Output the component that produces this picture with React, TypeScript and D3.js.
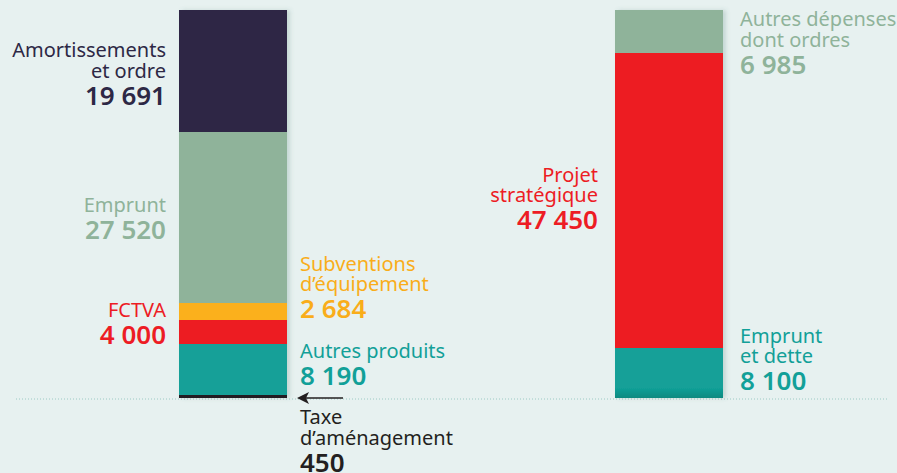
import { useEffect, useRef } from "react";
import * as d3 from "d3";

// Recettes (gauche), from bottom to top
const leftKeys = ["taxe", "autres", "fctva", "subv", "emprunt", "amort"];
const leftValues = [450, 8190, 4000, 2684, 27520, 19691];
const leftColors = ["#231f20", "#12a098", "#ed1c24", "#fbb01d", "#8fb39a", "#2d2845"];

// Dépenses (droite), from bottom to top
const rightKeys = ["dette", "projet", "autresdep"];
const rightValues = [8100, 47450, 6985];
const rightColors = ["url(#tealGrad)", "#ed1c24", "#8fb39a"];

const labelLines: Record<string, string[]> = {
  amort: ["Amortissements", "et ordre"],
  emprunt: ["Emprunt"],
  fctva: ["FCTVA"],
  subv: ["Subventions", "d\u2019équipement"],
  autres: ["Autres produits"],
  taxe: ["Taxe", "d\u2019aménagement"],
  projet: ["Projet", "stratégique"],
  autresdep: ["Autres dépenses", "dont ordres"],
  dette: ["Emprunt", "et dette"],
};
const labelColors: Record<string, string> = {
  amort: "#2d2845",
  emprunt: "#8fb39a",
  fctva: "#ed1c24",
  subv: "#f9ad1a",
  autres: "#12a098",
  taxe: "#231f20",
  projet: "#ed1c24",
  autresdep: "#8fb39a",
  dette: "#12a098",
};

const fmt = (v: number) => d3.format(",")(v).replace(/,/g, " ");

export default function App() {
  const ref = useRef<SVGSVGElement>(null);
  const width = 897;
  const height = 473;

  useEffect(() => {
    const svg = d3.select(ref.current);
    svg.selectAll("*").remove();

    const baseY = 398;
    const total = d3.sum(leftValues);
    const y = d3.scaleLinear().domain([0, total]).range([baseY, 10]);
    const x = d3.scaleOrdinal<string, number>().domain(["left", "right"]).range([179, 615]);
    const barW = 108;

    svg.append("rect").attr("width", width).attr("height", height).attr("fill", "#e7f1f0");

    const defs = svg.append("defs");
    const f = defs.append("filter").attr("id", "shadow").attr("x", "-10%").attr("width", "130%");
    f.append("feDropShadow").attr("dx", 3).attr("dy", 0).attr("stdDeviation", 2)
      .attr("flood-color", "#4d7a70").attr("flood-opacity", 0.22);
    const g = defs.append("linearGradient").attr("id", "tealGrad").attr("x1", 0).attr("x2", 0).attr("y1", 0).attr("y2", 1);
    g.append("stop").attr("offset", "0%").attr("stop-color", "#12a098");
    g.append("stop").attr("offset", "80%").attr("stop-color", "#12a098");
    g.append("stop").attr("offset", "100%").attr("stop-color", "#0d8a80");

    // dotted baseline
    svg.append("line").attr("x1", 16).attr("x2", 887).attr("y1", baseY + 1).attr("y2", baseY + 1)
      .attr("stroke", "#9ccac4").attr("stroke-width", 1).attr("stroke-dasharray", "1 2");

    const drawBar = (side: string, values: number[], colors: string[]) => {
      const cum = d3.cumsum(values);
      const grp = svg.append("g").attr("filter", "url(#shadow)");
      grp.selectAll("rect").data(values).join("rect")
        .attr("x", x(side))
        .attr("width", barW)
        .attr("y", (_, i) => y(cum[i]))
        .attr("height", (d, i) => y(cum[i] - d) - y(cum[i]))
        .attr("fill", (_, i) => colors[i])
        .attr("shape-rendering", "crispEdges");
    };
    drawBar("left", leftValues, leftColors);
    drawBar("right", rightValues, rightColors);

    // arrow for Taxe d'aménagement
    const ax = x("left") + barW + 10;
    svg.append("line").attr("x1", ax + 46).attr("x2", ax + 8).attr("y1", baseY).attr("y2", baseY)
      .attr("stroke", "#231f20").attr("stroke-width", 1.5);
    svg.append("path")
      .attr("d", `M${ax},${baseY} L${ax + 12},${baseY - 6} L${ax + 9},${baseY} L${ax + 12},${baseY + 6} Z`)
      .attr("fill", "#231f20");

    // label layout: anchor x, text-anchor, baseline of first line
    const layout: Record<string, { x: number; anchor: string; y: number; lh: number }> = {
      amort: { x: 166, anchor: "end", y: 57, lh: 21 },
      emprunt: { x: 166, anchor: "end", y: 212, lh: 21 },
      fctva: { x: 166, anchor: "end", y: 317, lh: 21 },
      subv: { x: 300, anchor: "start", y: 271, lh: 20 },
      autres: { x: 300, anchor: "start", y: 358, lh: 21 },
      taxe: { x: 300, anchor: "start", y: 424, lh: 21 },
      projet: { x: 598, anchor: "end", y: 182, lh: 20 },
      autresdep: { x: 740, anchor: "start", y: 26, lh: 21 },
      dette: { x: 740, anchor: "start", y: 343, lh: 20 },
    };
    const allKeys = [...leftKeys, ...rightKeys];
    const allValues = [...leftValues, ...rightValues];

    allKeys.forEach((k, i) => {
      const L = layout[k];
      const t = svg.append("text")
        .attr("text-anchor", L.anchor)
        .attr("fill", labelColors[k])
        .style("font-family", "'Noto Sans', 'Open Sans', sans-serif");
      const lines = labelLines[k];
      lines.forEach((ln, j) => {
        t.append("tspan").attr("x", L.x).attr("y", L.y + j * L.lh)
          .style("font-size", "20px").text(ln);
      });
      t.append("tspan").attr("x", L.x).attr("y", L.y + (lines.length - 1) * L.lh + 27)
        .style("font-size", "26px").style("font-weight", 600).text(fmt(allValues[i]));
    });
  }, []);

  return (
    <svg ref={ref} width={width} height={height}
      style={{ position: "absolute", left: 0, top: 0, display: "block" }} />
  );
}
